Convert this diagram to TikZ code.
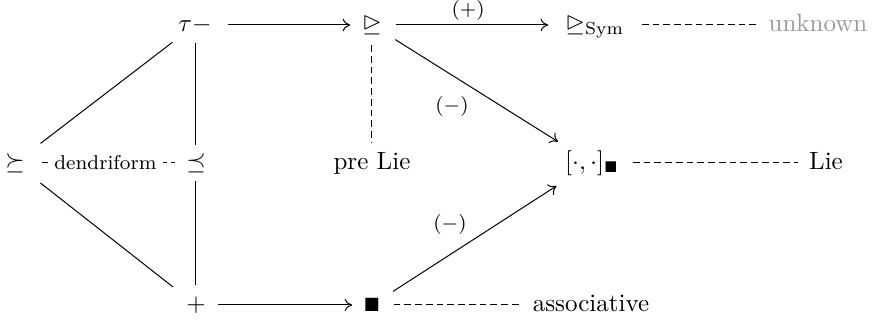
\documentclass[tikz,border=0pt]{standalone}
\usepackage{amssymb}
\usetikzlibrary{arrows.meta}
\begin{document}
\begin{tikzpicture}[x=0.4pt,y=-0.4pt,
  obj/.style={text height=7pt,text depth=2pt,inner sep=0pt,outer sep=0pt},
  lbl/.style={font=\footnotesize,inner sep=1pt},
  arr/.style={-{To[length=3pt,width=5pt]},line width=0.4pt},
  dsh/.style={dash pattern=on 2.7pt off 1.6pt,line width=0.4pt},
  pl/.style={line width=0.4pt}]
\useasboundingbox (0,0) rectangle (883,325);
\node[obj] (sg) at (15,163) {$\succeq$};
\node[obj] (pr) at (196,163) {$\preceq$};
\node[obj] (tau) at (195,25) {$\tau{-}$};
\node[obj] (plus) at (196,305) {$+$};
\node[obj] (tri) at (372,25) {$\trianglerighteq$};
\node[obj] (sym) at (595,25) {$\trianglerighteq_{\mathrm{Sym}}$};
\node[obj,text=black!40] (unk) at (818,25) {unknown};
\node[obj] (pre) at (372,163) {pre Lie};
\node[obj] (br) at (592,163) {$[\cdot,\cdot]_{\scriptscriptstyle\blacksquare}$};
\node[obj] (lie) at (826,163) {Lie};
\node[obj] (sq) at (372,305) {$\scriptstyle\blacksquare$};
\node[obj] (asso) at (591,305) {associative};
% arrows
\draw[arr,shorten <=6.4pt,shorten >=4.8pt] (tau.east) -- (tri.west);
\draw[arr,shorten <=5.8pt,shorten >=7pt] (tri.east) -- node[lbl,above=0.6pt,pos=0.47] {$(+)$} (sym.west);
\draw[arr,shorten <=5pt,shorten >=4.8pt] (plus.east) -- (sq.west);
\draw[arr,shorten <=6.4pt,shorten >=7.6pt] (tri) -- (br);
\draw[arr,shorten <=6.3pt,shorten >=8.6pt] (sq) -- (br);
\node[lbl] (m1) at (452,107) {$(-)$};
\node[lbl] (m2) at (450,225) {$(-)$};
% plain lines
\draw[pl,shorten <=8pt,shorten >=4pt] (sg) -- (tau);
\draw[pl,shorten <=8pt,shorten >=6.7pt] (sg) -- (plus);
\draw[pl,shorten <=2.8pt,shorten >=2.7pt] (tau.south -| pr) -- (pr.north);
\draw[pl,shorten <=2.7pt,shorten >=3.5pt] (pr.south) -- (plus.north -| pr);
% dashed
\draw[dsh,shorten <=7pt,shorten >=4.4pt] (sym.east) -- (unk.west);
\draw[dsh,shorten <=5.6pt,shorten >=4.6pt] (br.east) -- (lie.west);
\draw[dsh,shorten <=5.5pt,shorten >=5pt] (sq.east) -- (asso.west);
\draw[dsh,shorten <=3.6pt,shorten >=3.5pt] (tri.south) -- (pre.north);
\draw[dsh,shorten <=7pt,shorten >=4.5pt] (sg.east) -- node[lbl,fill=white,inner sep=2.5pt] {dendriform} (pr.west);
\end{tikzpicture}
\end{document}
